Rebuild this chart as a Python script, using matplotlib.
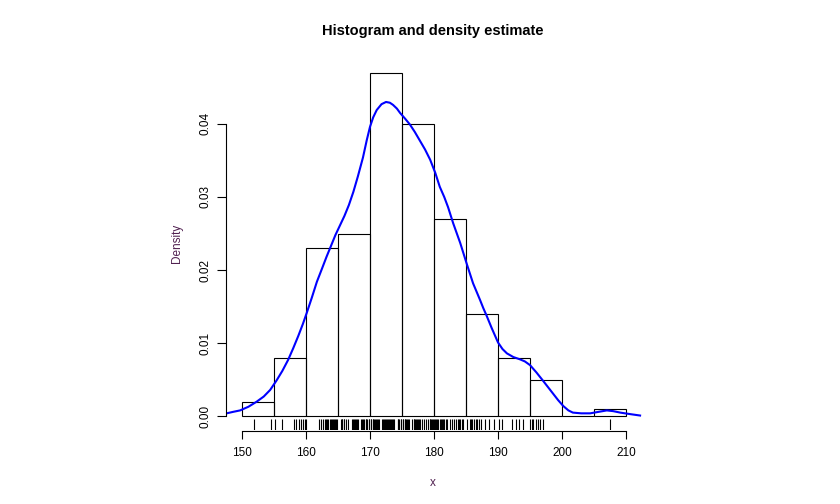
import matplotlib
matplotlib.use('Agg')
import matplotlib.pyplot as plt

# --- Histogram bins (left edges, width 5) and densities ---
bin_left = [150, 155, 160, 165, 170, 175, 180, 185, 190, 195, 200, 205]
bin_density = [0.002, 0.008, 0.023, 0.025, 0.047, 0.040, 0.027, 0.014, 0.008, 0.005, 0.0, 0.001]

# --- Kernel density estimate ---
kde_x = [147.6, 148.6, 149.7, 151.0, 152.3, 153.4, 154.4, 155.4, 156.3, 157.2,
         158.0, 158.8, 159.5, 160.1, 160.9, 161.7, 162.5, 163.2, 163.9, 164.6,
         165.3, 166.0, 166.7, 167.4, 168.1, 168.9, 169.5, 170.0, 170.5, 171.05,
         171.8, 172.5, 173.1, 173.6, 174.2, 174.7, 175.5, 176.25, 177.0, 177.8,
         178.6, 179.4, 180.2, 180.9, 181.6, 182.2, 183.0, 184.1, 185.1, 186.1,
         187.2, 187.7, 188.2, 189.0, 190.0, 190.7, 191.4, 192.4, 193.4, 194.2,
         195.0, 196.0, 197.0, 197.8, 198.6, 199.4, 200.2, 201.0, 201.7, 203.0,
         204.4, 205.7, 207.0, 208.0, 209.1, 210.6, 212.2]
kde_y = [0.0004, 0.0006, 0.0008, 0.0013, 0.0020, 0.0027, 0.0036, 0.0049, 0.0062, 0.0077,
         0.0093, 0.0110, 0.0126, 0.0141, 0.0162, 0.0184, 0.0202, 0.0218, 0.0233, 0.0248,
         0.0261, 0.0274, 0.0289, 0.0307, 0.0328, 0.0354, 0.0378, 0.0396, 0.0409, 0.0419,
         0.0427, 0.0430, 0.0429, 0.0426, 0.0421, 0.0415, 0.0407, 0.0399, 0.0389, 0.0377,
         0.0365, 0.0351, 0.0333, 0.0314, 0.0300, 0.0286, 0.0264, 0.0237, 0.0209, 0.0182,
         0.0159, 0.0148, 0.0138, 0.0121, 0.0101, 0.0092, 0.0086, 0.0081, 0.0078, 0.0075,
         0.0070, 0.0060, 0.0049, 0.0040, 0.0031, 0.0022, 0.0014, 0.0008, 0.0005, 0.0004,
         0.0004, 0.0006, 0.0008, 0.0007, 0.0005, 0.0003, 0.0001]

# --- Rug (observations) ---
rug_x = [151.9, 154.5, 155.2, 156.3, 158.2, 158.5, 158.9, 159.2, 159.5, 159.8, 160.0,
         162.0, 162.3, 162.6, 162.9, 163.1, 163.3, 163.5, 163.7, 163.9, 164.0, 164.2,
         164.4, 164.5, 164.7, 164.8, 165.4, 165.6, 165.7, 165.9, 166.0, 166.2, 166.6,
         167.2, 167.4, 167.5, 167.7, 167.8, 168.0, 168.1, 168.6, 168.8, 168.9, 169.1,
         169.3, 169.4, 169.6, 169.8, 169.9, 170.1, 170.2, 170.4, 170.5, 170.7, 170.8,
         171.0, 171.1, 171.3, 171.4, 171.9, 172.0, 172.2, 172.4, 172.5, 172.7, 172.8,
         173.0, 173.1, 173.3, 173.4, 173.6, 173.7, 174.3, 174.4, 174.6, 174.8, 174.9,
         175.1, 175.2, 175.4, 175.5, 175.7, 175.8, 176.0, 176.1, 176.6, 176.8, 176.9,
         177.1, 177.2, 177.4, 177.5, 177.7, 177.8, 178.2, 178.4, 178.7, 179.1, 179.3,
         179.4, 179.6, 179.7, 179.9, 180.0, 180.2, 180.3, 180.5, 180.6, 180.9, 181.1,
         181.2, 181.4, 181.5, 181.8, 182.0, 182.5, 182.8, 183.1, 183.5, 183.7, 183.9,
         184.1, 184.3, 184.6, 185.1, 185.6, 185.8, 186.0, 186.2, 186.5, 186.7, 187.0,
         187.4, 188.0, 188.6, 189.4,
         190.2, 190.6, 192.2, 192.8, 193.3, 193.95, 195.0, 195.3, 195.5, 195.9, 196.2,
         196.6, 197.0, 207.5]

x_ticks = [150, 160, 170, 180, 190, 200, 210]
y_ticks = [0.00, 0.01, 0.02, 0.03, 0.04]


def main():
    plt.rcParams['font.family'] = ['Liberation Sans', 'DejaVu Sans']

    fig = plt.figure(figsize=(8.4, 5.04), dpi=100)
    # plot region roughly as R lays it out
    ax = fig.add_axes([226 / 840, 1 - 430 / 504, 416 / 840, 371 / 504])

    # --- Histogram ---
    ax.bar(bin_left, bin_density, width=5, align='edge', fill=False,
           edgecolor='black', linewidth=0.8)

    # --- Density curve ---
    ax.plot(kde_x, kde_y, color='#0000ff', linewidth=1.5)

    # --- Rug ---
    ax.vlines(rug_x, 0, 0.03, transform=ax.get_xaxis_transform(),
              color='black', linewidth=0.8)

    ax.set_xlim(147.5, 212.5)
    ax.set_ylim(-0.00188, 0.04888)

    # --- R-style detached axes ---
    for side in ['top', 'right']:
        ax.spines[side].set_visible(False)
    ax.spines['left'].set_bounds(0, 0.04)
    ax.spines['bottom'].set_bounds(150, 210)
    ax.spines['left'].set_linewidth(0.8)
    ax.spines['bottom'].set_linewidth(0.8)
    ax.spines['bottom'].set_position(('outward', 1))

    ax.set_xticks(x_ticks)
    ax.set_xticklabels([str(t) for t in x_ticks])
    ax.set_yticks(y_ticks)
    ax.set_yticklabels([f'{t:.2f}' for t in y_ticks], rotation=90, va='center')
    ax.tick_params(axis='x', length=5.5, width=0.8, pad=6, labelsize=8.5)
    ax.tick_params(axis='y', length=6.7, width=0.8, pad=3.5, labelsize=8.5)

    # --- Texts ---
    fig.text(433 / 840, 1 - 31 / 504, 'Histogram and density estimate',
             ha='center', va='center', fontsize=10.5, fontweight='bold')
    fig.text(433 / 840, 1 - 483 / 504, 'x', ha='center', va='center',
             fontsize=8.5, color='#502050')
    fig.text(177 / 840, 1 - 243 / 504, 'Density', ha='center', va='center',
             rotation=90, fontsize=8.5, color='#502050')

    fig.savefig('out.png', dpi=100)


if __name__ == '__main__':
    main()
